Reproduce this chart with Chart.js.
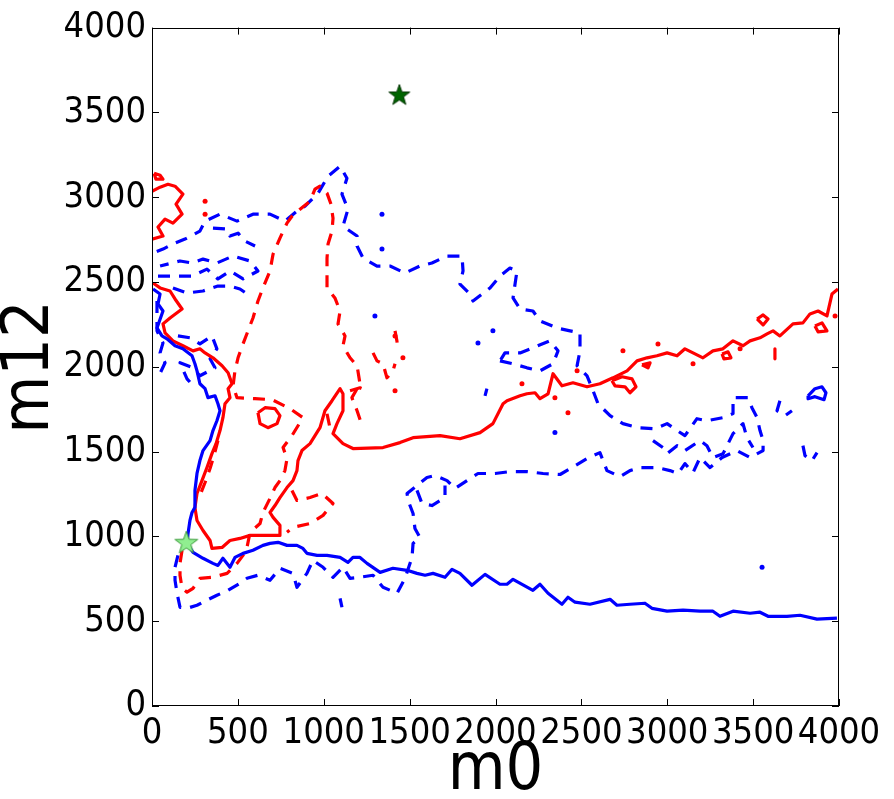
<!DOCTYPE html>
<html>
<head>
<meta charset="utf-8">
<script src="https://cdn.jsdelivr.net/npm/chart.js@4.4.1/dist/chart.umd.min.js"></script>
<style>
  html, body { margin: 0; padding: 0; background: #fff; }
</style>
</head>
<body>
<canvas id="myChart" width="894" height="799"></canvas>
<script>
// axis ticks
const tickValues = [0, 500, 1000, 1500, 2000, 2500, 3000, 3500, 4000];

// markers
const darkStar = [[1440, 3600]];
const lightStar = [[200, 960]];

// blue solid contour
const blueSolidMain = [[6,2459],[47,2429],[35,2371],[64,2329],[29,2229],[58,2182],[87,2165],[134,2124],[180,2106],[233,2065],[250,2018],[262,1976],[279,1900],[309,1871],[326,1818],[367,1829],[384,1782],[396,1741],[378,1682],[355,1624],[338,1565],[297,1506],[279,1447],[262,1371],[250,1271],[250,1171],[233,1141],[221,1094],[210,1018],[204,959],[239,906],[297,871],[355,841],[384,829],[413,871],[454,818],[483,876],[530,900],[588,918],[646,947],[687,959],[734,965],[786,947],[844,947],[879,929],[902,900],[961,888],[1019,888],[1095,876],[1141,847],[1170,876],[1211,876],[1252,841],[1328,788],[1403,812],[1485,800],[1543,782],[1590,771],[1636,782],[1706,759],[1747,806],[1793,782],[1863,712],[1939,776],[2026,718],[2067,718],[2102,747],[2218,682],[2259,718],[2306,665],[2387,600],[2422,641],[2463,612],[2550,600],[2667,629],[2707,594],[2783,600],[2870,606],[2911,576],[2999,559],[3092,565],[3191,559],[3266,559],[3307,529],[3383,559],[3482,547],[3540,553],[3587,529],[3697,529],[3773,535],[3872,512],[3988,518]];
const blueSolidLoop = [[3820,1829],[3860,1871],[3901,1882],[3924,1847],[3913,1806],[3860,1824],[3820,1812],[3820,1829]];

// red solid contours
const redSolidMain = [[6,2494],[47,2465],[105,2447],[134,2400],[175,2341],[105,2288],[64,2253],[76,2200],[122,2153],[180,2124],[239,2094],[279,2106],[309,2082],[355,2053],[408,2006],[443,1965],[466,1900],[443,1871],[454,1818],[425,1782],[413,1700],[396,1624],[373,1547],[349,1488],[320,1406],[291,1329],[262,1253],[250,1171],[262,1094],[297,1035],[338,976],[349,929],[408,935],[454,976],[512,988],[571,1006],[629,1006],[687,1006],[745,1006],[745,1065],[705,1112],[687,1141],[716,1182],[745,1229],[786,1288],[821,1329],[844,1388],[850,1447],[873,1506],[920,1547],[978,1641],[1007,1741],[1048,1800],[1095,1871],[1112,1841],[1112,1741],[1077,1665],[1054,1606],[1112,1547],[1170,1518],[1345,1524],[1444,1553],[1520,1582],[1677,1594],[1793,1576],[1910,1612],[1985,1665],[2044,1782],[2067,1800],[2143,1829],[2183,1841],[2230,1847],[2259,1812],[2306,1841],[2335,1959],[2387,1888],[2451,1906],[2533,1882],[2608,1900],[2684,1935],[2766,1976],[2824,2035],[2882,2053],[2940,2065],[2999,2082],[3057,2065],[3103,2106],[3150,2082],[3208,2053],[3266,2094],[3324,2106],[3383,2153],[3441,2124],[3482,2153],[3540,2171],[3581,2194],[3616,2212],[3656,2182],[3732,2253],[3790,2259],[3831,2312],[3878,2329],[3930,2300],[3959,2429],[3994,2459]];
const redSolidTopLeft = [[0,3035],[47,3059],[93,3076],[134,3065],[180,3018],[140,2959],[175,2900],[122,2847],[76,2871],[35,2824],[64,2771],[0,2753]];
const redSolidBlob = [[12,3141],[47,3129],[64,3106],[23,3106],[12,3141]];
const redSolidLoopA = [[617,1729],[658,1759],[716,1753],[745,1712],[728,1665],[675,1641],[629,1665],[617,1729]];
const redSolidLoopB = [[2678,1918],[2737,1941],[2795,1929],[2818,1882],[2783,1847],[2754,1882],[2696,1888],[2678,1918]];
const redSolidLoopC = [[3523,2282],[3558,2306],[3587,2282],[3558,2247],[3523,2282]];
const redSolidLoopD = [[3860,2241],[3901,2259],[3930,2212],[3878,2206],[3860,2241]];
const redSolidLoopE = [[3319,2076],[3354,2088],[3371,2053],[3330,2047],[3319,2076]];
const redSolidLoopF = [[2853,2012],[2900,2023],[2888,1994],[2853,2012]];
const redSolidTick = [[3627,2106],[3627,2047]];
const redDots = [[309,2976],[309,2900],[1415,2182],[1461,2053],[1415,1859],[2154,1900],[2346,1818],[2422,1729],[2475,1976],[2742,2094],[2946,2135],[3150,2018],[3424,2106],[3977,2300]];

// red dashed contours
const redDashMain = [[175,918],[163,841],[163,771],[175,694],[204,671],[239,694],[279,753],[355,759],[437,782],[495,841],[530,888],[553,935],[571,1024],[629,1076],[646,1141],[687,1224],[716,1288],[745,1329],[774,1388],[786,1459],[763,1524],[815,1594],[879,1700],[804,1753],[699,1806],[600,1812],[495,1818],[472,1888],[483,1976],[501,2053],[530,2135],[559,2212],[588,2288],[617,2388],[646,2465],[687,2565],[705,2665],[745,2759],[786,2847],[815,2888],[862,2929],[920,2976],[949,3047],[978,3065],[1019,3024],[1042,2959],[1054,2876],[1048,2800],[1025,2724],[1019,2641],[1019,2565],[1019,2465],[1065,2406],[1095,2329],[1083,2253],[1124,2182],[1112,2124],[1153,2053],[1194,2006],[1211,1900],[1164,1818],[1194,1741],[1223,1653]];
const redDashRing = [[815,1271],[844,1212],[920,1229],[990,1253],[1054,1194],[996,1124],[920,1076],[821,1053],[786,1024]];
const redDashLeft = [[384,1565],[361,1476],[338,1400],[309,1318],[279,1241]];
const redDashMid = [[1287,2082],[1310,2035],[1345,2018],[1368,1935],[1403,1976],[1415,2018]];
const redDashBitA = [[1415,2212],[1426,2153],[1432,2094]];
const redDashBitB = [[1019,1723],[1036,1641]];
const redDashBitC = [[1153,1859],[1211,1876],[1252,1859]];

// blue dashed contours
const blueDashMain = [[151,888],[134,818],[134,741],[146,665],[163,582],[204,576],[262,594],[320,624],[378,653],[443,682],[512,724],[553,753],[617,771],[687,741],[745,812],[821,782],[844,700],[902,782],[937,859],[996,818],[1054,759],[1112,818],[1153,753],[1211,759],[1287,771],[1345,700],[1427,665],[1473,753],[1514,876],[1520,959],[1560,994],[1531,1047],[1520,1135],[1491,1212],[1485,1253],[1543,1300],[1601,1347],[1648,1359],[1718,1329],[1764,1282],[1834,1329],[1898,1371],[1997,1371],[2084,1382],[2183,1382],[2277,1371],[2376,1365],[2445,1406],[2533,1459],[2608,1494],[2649,1388],[2725,1353],[2783,1388],[2841,1406],[2940,1406],[3016,1388],[3063,1371],[3103,1429],[3150,1376],[3191,1465],[3249,1406],[3319,1465],[3406,1506],[3482,1465],[3558,1506],[3558,1565],[3540,1624],[3523,1700],[3493,1759],[3470,1818],[3383,1818],[3383,1724],[3325,1700],[3231,1682],[3173,1694],[3103,1594],[3057,1624],[2999,1665],[2929,1635],[2830,1641],[2742,1665],[2667,1712],[2597,1782],[2568,1859],[2533,1947],[2475,2006],[2492,2094],[2492,2200],[2434,2212],[2358,2229],[2259,2271],[2218,2329],[2143,2341],[2102,2406],[2125,2565],[2084,2582],[2026,2535],[1968,2465],[1869,2388],[1852,2429],[1793,2488],[1811,2565],[1805,2653],[1718,2653],[1630,2612],[1560,2594],[1473,2553],[1386,2594],[1310,2594],[1229,2641],[1194,2712],[1194,2771],[1112,2829],[1141,2929],[1106,3018],[1135,3112],[1095,3182],[1025,3124],[967,3024],[891,2947],[844,2918],[774,2859],[687,2900],[588,2900],[495,2859],[396,2900],[309,2859],[279,2800],[192,2753],[122,2724],[64,2694],[6,2671]];
const blueDashRowA = [[35,2535],[146,2535],[233,2535],[320,2576],[384,2518],[454,2565],[530,2518],[617,2565],[571,2624],[472,2653],[378,2612],[297,2635],[233,2612],[163,2624],[47,2594]];
const blueDashRowB = [[122,2465],[204,2435],[297,2447],[384,2476],[454,2476],[512,2459],[571,2418]];
const blueDashRowC = [[355,2818],[437,2812],[454,2771],[501,2788],[541,2741],[600,2712]];
const blueDashEdge = [[29,2388],[29,2300],[29,2212],[64,2141],[47,2082],[76,2024],[35,1935]];
const blueDashLeft = [[151,2182],[221,2171],[279,2135],[349,2182],[378,2106],[338,2047],[367,1994],[279,1947],[239,1994],[163,2024],[204,1929],[250,1876]];
const blueDashMid = [[2026,2035],[2102,2018],[2183,1994],[2259,1976],[2335,2018],[2364,2094],[2317,2153],[2218,2112],[2143,2082],[2055,2082],[2026,2035]];
const blueDashLow = [[1543,1271],[1572,1194],[1630,1182],[1706,1229],[1706,1300]];
const blueDashRight = [[2917,1565],[2975,1524],[2999,1488],[3057,1535],[3103,1506],[3191,1565],[3231,1535],[3266,1465],[3325,1488],[3383,1606],[3441,1665],[3464,1582],[3499,1524]];
const blueDashRingA = [[3656,1800],[3639,1741],[3686,1712],[3726,1741]];
const blueDashRingB = [[3790,1535],[3802,1476],[3843,1447],[3872,1494]];
const blueDashBitA = [[1950,1871],[1939,1829]];
const blueDashBitB = [[1095,635],[1106,582]];
const blueDots = [[1339,2900],[1339,2694],[1298,2300],[1898,2141],[2346,1612],[1985,2212],[3552,818]];

const RED = '#ff0000';
const BLUE = '#0000ff';
const FONT = "'DejaVu Sans Condensed', 'DejaVu Sans', sans-serif";

const pts = arr => arr.map(([x, y]) => ({ x, y }));

function line(arr, color, dashed) {
  return {
    data: pts(arr),
    showLine: true,
    borderColor: color,
    borderWidth: 3.2,
    borderDash: dashed ? [12, 9] : [],
    borderJoinStyle: 'round',
    pointRadius: 0,
    tension: 0
  };
}

function dots(arr, color, r) {
  return { data: pts(arr), showLine: false, pointRadius: r, pointBackgroundColor: color, pointBorderWidth: 0 };
}

// filled five-point star used as point style
function makeStar(R, fill, edge) {
  const c = document.createElement('canvas');
  const s = Math.ceil(R * 2 + 4);
  c.width = c.height = s;
  const g = c.getContext('2d');
  g.translate(s / 2, s / 2);
  g.beginPath();
  for (let i = 0; i < 10; i++) {
    const r = i % 2 ? R * 0.4 : R;
    const a = -Math.PI / 2 + i * Math.PI / 5;
    g.lineTo(r * Math.cos(a), r * Math.sin(a));
  }
  g.closePath();
  g.fillStyle = fill;
  g.fill();
  g.lineWidth = 1;
  g.strokeStyle = edge;
  g.stroke();
  return c;
}

// box around the plot with inward ticks on all four sides
const frameTicks = {
  id: 'frameTicks',
  afterDraw(chart) {
    const { ctx, chartArea: a, scales: { x, y } } = chart;
    ctx.save();
    ctx.strokeStyle = '#000';
    ctx.lineWidth = 1;
    ctx.strokeRect(Math.round(a.left) + 0.5, Math.round(a.top) + 0.5, Math.round(a.width) - 1, Math.round(a.height) - 1);
    ctx.beginPath();
    tickValues.forEach(v => {
      const px = Math.round(x.getPixelForValue(v)) + 0.5;
      ctx.moveTo(px, a.bottom); ctx.lineTo(px, a.bottom - 7);
      ctx.moveTo(px, a.top); ctx.lineTo(px, a.top + 7);
      const py = Math.round(y.getPixelForValue(v)) + 0.5;
      ctx.moveTo(a.left, py); ctx.lineTo(a.left + 7, py);
      ctx.moveTo(a.right, py); ctx.lineTo(a.right - 7, py);
    });
    ctx.stroke();
    ctx.restore();
  }
};

const datasets = [
  { data: pts(darkStar), pointStyle: makeStar(11, '#006400', '#003300'), showLine: false },
  { data: pts(lightStar), pointStyle: makeStar(12, '#90ee90', '#3a9a3a'), showLine: false },
  line(blueSolidMain, BLUE, false),
  line(blueSolidLoop, BLUE, false),
  line(redSolidMain, RED, false),
  line(redSolidTopLeft, RED, false),
  line(redSolidBlob, RED, false),
  line(redSolidLoopA, RED, false),
  line(redSolidLoopB, RED, false),
  line(redSolidLoopC, RED, false),
  line(redSolidLoopD, RED, false),
  line(redSolidLoopE, RED, false),
  line(redSolidLoopF, RED, false),
  line(redSolidTick, RED, false),
  dots(redDots, RED, 2.5),
  line(redDashMain, RED, true),
  line(redDashRing, RED, true),
  line(redDashLeft, RED, true),
  line(redDashMid, RED, true),
  line(redDashBitA, RED, true),
  line(redDashBitB, RED, true),
  line(redDashBitC, RED, true),
  line(blueDashMain, BLUE, true),
  line(blueDashRowA, BLUE, true),
  line(blueDashRowB, BLUE, true),
  line(blueDashRowC, BLUE, true),
  line(blueDashEdge, BLUE, true),
  line(blueDashLeft, BLUE, true),
  line(blueDashMid, BLUE, true),
  line(blueDashLow, BLUE, true),
  line(blueDashRight, BLUE, true),
  line(blueDashRingA, BLUE, true),
  line(blueDashRingB, BLUE, true),
  line(blueDashBitA, BLUE, true),
  line(blueDashBitB, BLUE, true),
  dots(blueDots, BLUE, 2.5)
];

const tickFont = { family: FONT, size: 36 };
const titleFont = { family: FONT, size: 66, lineHeight: 1 };
const plainLabel = v => String(v);

const config = {
  type: 'scatter',
  data: { datasets },
  options: {
    responsive: false,
    animation: false,
    devicePixelRatio: 1,
    layout: { padding: { top: 26, right: 55, left: 0, bottom: 0 } },
    plugins: { legend: { display: false }, tooltip: { enabled: false } },
    scales: {
      x: {
        type: 'linear', min: 0, max: 4000,
        ticks: { stepSize: 500, font: tickFont, color: '#000', padding: 6, maxRotation: 0, autoSkip: false, callback: plainLabel },
        grid: { display: false, drawTicks: false },
        border: { display: false },
        title: { display: true, text: 'm0', font: titleFont, color: '#000', padding: { top: 0, bottom: -6 } },
        afterFit: s => { s.height = 93; }
      },
      y: {
        type: 'linear', min: 0, max: 4000,
        ticks: { stepSize: 500, font: tickFont, color: '#000', padding: 6, autoSkip: false, callback: plainLabel },
        grid: { display: false, drawTicks: false },
        border: { display: false },
        title: { display: true, text: 'm12', font: titleFont, color: '#000', padding: { top: -2, bottom: 0 } },
        afterFit: s => { s.width = 152; }
      }
    }
  },
  plugins: [frameTicks]
};

new Chart(document.getElementById('myChart'), config);
</script>
</body>
</html>
